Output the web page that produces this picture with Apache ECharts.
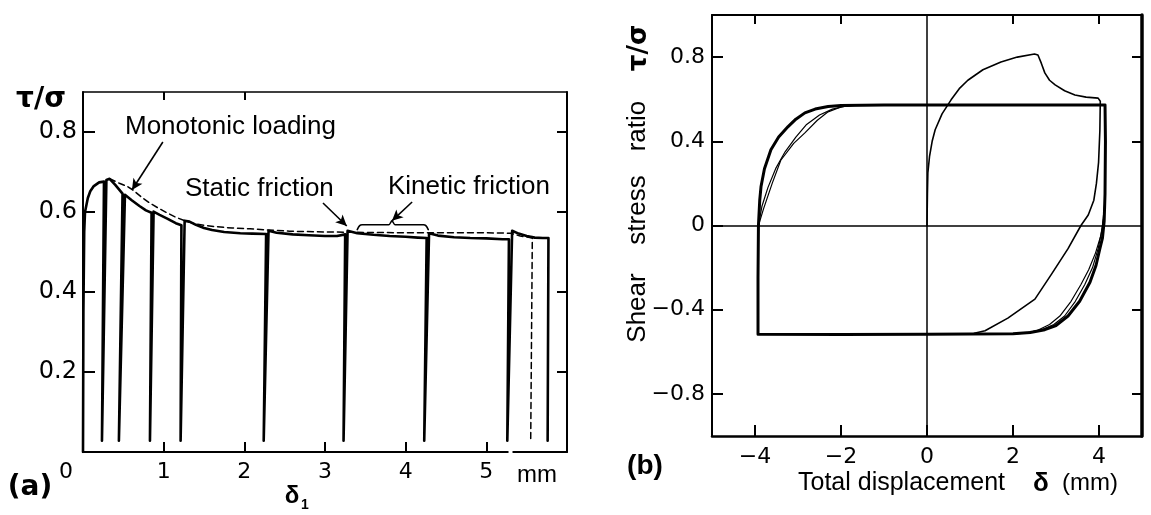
<!DOCTYPE html>
<html>
<head>
<meta charset="utf-8">
<script src="https://cdn.jsdelivr.net/npm/echarts@6.0.0/dist/echarts.min.js"></script>
<style>
  html, body { margin: 0; padding: 0; background: #fff; }
  #chart { width: 1151px; height: 515px; }
</style>
</head>
<body>
<div id="chart"></div>
<script>
// ---- Panel (a): shear stress ratio vs. displacement δ1 (mm) ----
// cyclic test: envelope with unloading / reloading drops
const cyclicA = [
  [0, 0], [0.005, 0.35], [0.015, 0.55], [0.025, 0.6], [0.045, 0.605], [0.06, 0.635],
  [0.09, 0.652], [0.13, 0.664], [0.2, 0.674], [0.26, 0.676],
  [0.235, 0.028],
  [0.29, 0.68], [0.33, 0.683], [0.4, 0.668], [0.49, 0.646],
  [0.445, 0.028],
  [0.52, 0.643], [0.6, 0.63], [0.7, 0.615], [0.78, 0.604], [0.85, 0.598],
  [0.83, 0.028],
  [0.875, 0.601], [0.95, 0.593], [1.05, 0.583], [1.15, 0.572], [1.22, 0.567],
  [1.21, 0.028],
  [1.26, 0.578], [1.32, 0.576], [1.4, 0.568], [1.5, 0.56], [1.6, 0.555], [1.75, 0.55],
  [1.95, 0.547], [2.1, 0.546], [2.27, 0.545],
  [2.24, 0.028],
  [2.3, 0.553], [2.4, 0.548], [2.6, 0.544], [2.8, 0.542], [3.0, 0.54], [3.15, 0.54], [3.25, 0.544],
  [3.23, 0.028],
  [3.28, 0.553], [3.4, 0.547], [3.6, 0.543], [3.8, 0.54], [4.0, 0.538], [4.15, 0.536], [4.26, 0.535],
  [4.23, 0.028],
  [4.29, 0.547], [4.4, 0.541], [4.6, 0.537], [4.8, 0.535], [5.0, 0.534], [5.2, 0.532], [5.28, 0.532],
  [5.26, 0.028],
  [5.32, 0.553], [5.4, 0.546], [5.5, 0.54], [5.6, 0.536], [5.7, 0.535], [5.77, 0.535],
  [5.76, 0.028]
];
// monotonic loading (dashed)
const monotonicA = [
  [0.33, 0.683], [0.45, 0.672], [0.55, 0.664], [0.62, 0.655], [0.72, 0.638], [0.83, 0.622],
  [0.94, 0.609], [1.04, 0.598], [1.16, 0.586], [1.28, 0.577], [1.4, 0.57], [1.5, 0.567],
  [1.66, 0.563], [1.85, 0.56], [2.07, 0.558], [2.3, 0.555], [2.56, 0.552], [3.0, 0.55],
  [3.5, 0.549], [4.0, 0.548], [4.5, 0.548], [5.0, 0.548], [5.3, 0.547], [5.42, 0.54],
  [5.57, 0.535], [5.55, 0.028]
];
const ticksXA = [1, 2, 3, 4, 5];
const ticksYA = [0.2, 0.4, 0.6, 0.8];

// ---- Panel (b): shear stress ratio vs. total displacement δ (mm) ----
// first loading and first reversal (thin)
const firstLoadB = [
  [0, 0], [0.01, 0.15], [0.02, 0.25], [0.06, 0.33], [0.12, 0.4], [0.19, 0.455], [0.35, 0.53],
  [0.56, 0.597], [0.75, 0.65], [0.95, 0.69], [1.3, 0.74], [1.72, 0.777], [2.1, 0.8],
  [2.5, 0.815], [2.58, 0.81], [2.66, 0.77], [2.74, 0.725], [2.85, 0.69], [2.98, 0.668],
  [3.2, 0.64], [3.44, 0.62], [3.7, 0.61], [3.98, 0.605], [4.03, 0.59], [4.02, 0.45],
  [3.99, 0.3], [3.94, 0.2], [3.88, 0.12], [3.75, 0.05], [3.58, 0.0], [3.28, -0.11],
  [2.9, -0.23], [2.51, -0.35], [1.88, -0.44], [1.35, -0.5], [1.1, -0.512]
];
// steady hysteresis loop (thick)
const loopB = [
  [-3.93, -0.517], [-3.93, -0.25], [-3.92, 0], [-3.89, 0.12], [-3.86, 0.185], [-3.78, 0.27],
  [-3.63, 0.36], [-3.45, 0.42], [-3.23, 0.47], [-3.05, 0.505], [-2.84, 0.535], [-2.6, 0.553],
  [-2.3, 0.565], [-2.0, 0.57], [-1.0, 0.572], [0, 0.572], [1, 0.573], [2, 0.573], [3, 0.573],
  [4.14, 0.573], [4.15, 0.4], [4.14, 0.15], [4.12, 0.02], [4.08, -0.06], [4.02, -0.11],
  [3.93, -0.19], [3.79, -0.27], [3.55, -0.36], [3.28, -0.43], [3.0, -0.475], [2.74, -0.495],
  [2.4, -0.508], [2.0, -0.514], [1, -0.516], [0, -0.517], [-2, -0.518], [-3.93, -0.517]
];
// other cycles, where they separate from the steady loop
const cycleLeftA = [
  [-3.92, 0], [-3.84, 0.09], [-3.7, 0.18], [-3.52, 0.27], [-3.3, 0.35], [-3.05, 0.42],
  [-2.8, 0.48], [-2.5, 0.525], [-2.2, 0.553], [-1.9, 0.567], [-1.6, 0.572]
];
const cycleLeftB = [
  [-3.92, 0], [-3.8, 0.08], [-3.6, 0.2], [-3.4, 0.31], [-3.1, 0.39], [-2.84, 0.44],
  [-2.55, 0.5], [-2.3, 0.54], [-2.0, 0.563], [-1.7, 0.572]
];
const cycleRightA = [
  [4.13, 0.1], [4.07, -0.02], [3.98, -0.11], [3.85, -0.2], [3.67, -0.28], [3.45, -0.36],
  [3.2, -0.43], [2.95, -0.47], [2.65, -0.497], [2.3, -0.51], [1.9, -0.516]
];
const cycleRightB = [
  [4.12, 0.05], [4.04, -0.05], [3.92, -0.13], [3.76, -0.21], [3.58, -0.28], [3.35, -0.36],
  [3.09, -0.43], [2.85, -0.47], [2.55, -0.5], [2.2, -0.513], [1.8, -0.517]
];
const ticksXB = [-4, -2, 0, 2, 4];
const ticksYB = [-0.8, -0.4, 0, 0.4, 0.8];

const INK = '#000';
const NUM_FONT = 'DejaVu Sans';
const TXT_FONT = 'Liberation Sans';
const minus = v => (v < 0 ? '\u2212' : '') + Math.abs(v);

function frameAxis(extra) {
  return Object.assign({
    type: 'value',
    axisLine: { show: true, onZero: false, lineStyle: { color: INK, width: 2 } },
    axisTick: { show: true, inside: true, length: 11, lineStyle: { color: INK, width: 2 } },
    axisLabel: { show: false },
    splitLine: { show: false }
  }, extra);
}

function curve(name, xi, data, width, dash) {
  return {
    name, type: 'line', xAxisIndex: xi, yAxisIndex: xi, data,
    showSymbol: false, symbol: 'none', smooth: false, silent: true, z: 3,
    lineStyle: { color: INK, width, type: dash || 'solid', cap: 'round', join: 'round' }
  };
}

const chart = echarts.init(document.getElementById('chart'), null, { renderer: 'canvas' });

const annotationStyle = { color: INK, width: 1.6, type: 'solid' };

const option = {
  animation: false,
  backgroundColor: '#fff',
  grid: [
    { left: 83, top: 92, width: 484, height: 360 },
    { left: 712, top: 15, width: 430, height: 421 }
  ],
  xAxis: [
    frameAxis({
      gridIndex: 0, min: 0, max: 6, position: 'bottom',
      axisTick: { show: true, inside: true, length: 10, customValues: ticksXA, lineStyle: { color: INK, width: 2 } },
      axisLabel: { show: true, customValues: ticksXA, color: INK, fontFamily: NUM_FONT, fontSize: 22, margin: 9 }
    }),
    frameAxis({
      gridIndex: 1, min: -5, max: 5, position: 'bottom',
      axisLine: { show: true, onZero: false, lineStyle: { color: INK, width: 2.5 } },
      axisTick: { show: true, inside: true, length: 11, customValues: ticksXB, lineStyle: { color: INK, width: 2 } },
      axisLabel: { show: true, customValues: ticksXB, formatter: minus, color: INK, fontFamily: NUM_FONT, fontSize: 22, margin: 10 }
    }),
    frameAxis({
      gridIndex: 0, min: 0, max: 6, position: 'top',
      axisLine: { show: true, onZero: false, lineStyle: { color: INK, width: 1.5 } },
      axisTick: { show: true, inside: true, length: 8, customValues: [1, 2], lineStyle: { color: INK, width: 2 } }
    }),
    frameAxis({
      gridIndex: 1, min: -5, max: 5, position: 'top',
      axisTick: { show: true, inside: true, length: 9, customValues: [-4, -2, 2, 4], lineStyle: { color: INK, width: 2 } }
    })
  ],
  yAxis: [
    frameAxis({
      gridIndex: 0, min: 0, max: 0.9, position: 'left',
      axisTick: { show: true, inside: true, length: 12, customValues: ticksYA, lineStyle: { color: INK, width: 2 } },
      axisLabel: { show: true, customValues: ticksYA, formatter: v => v.toFixed(1), color: INK, fontFamily: NUM_FONT, fontSize: 24, margin: 6 }
    }),
    frameAxis({
      gridIndex: 1, min: -1, max: 1, position: 'left',
      axisTick: { show: true, inside: true, length: 11, customValues: ticksYB, lineStyle: { color: INK, width: 2 } },
      axisLabel: { show: true, customValues: ticksYB, formatter: v => v === 0 ? '0' : minus(Number(v.toFixed(1))), color: INK, fontFamily: NUM_FONT, fontSize: 22, margin: 7 }
    }),
    frameAxis({
      gridIndex: 0, min: 0, max: 0.9, position: 'right',
      axisTick: { show: true, inside: true, length: 10, customValues: ticksYA, lineStyle: { color: INK, width: 2 } }
    }),
    frameAxis({
      gridIndex: 1, min: -1, max: 1, position: 'right',
      axisLine: { show: true, onZero: false, lineStyle: { color: INK, width: 3.5 } },
      axisTick: { show: true, inside: true, length: 10, customValues: [-0.8, -0.4, 0.4, 0.8], lineStyle: { color: INK, width: 2 } }
    })
  ],
  series: [
    curve('Cyclic loading', 0, cyclicA, 2.6),
    Object.assign(curve('Monotonic loading', 0, monotonicA, 1.5, [6, 4]), {
      markLine: {
        silent: true, symbol: ['none', 'arrow'], symbolSize: [8, 11],
        label: { show: false }, lineStyle: annotationStyle,
        data: [
          [{ coord: [0.99, 0.775] }, { coord: [0.607, 0.655] }],
          [{ coord: [2.975, 0.6225] }, { coord: [3.27, 0.565] }],
          [{ coord: [4.08, 0.625] }, { coord: [3.83, 0.578] }]
        ]
      }
    }),
    // brace over the kinetic-friction stretch
    Object.assign(curve('Kinetic friction brace', 0, [
      [3.4, 0.556], [3.43, 0.566], [3.46, 0.568], [3.79, 0.568], [3.83, 0.578],
      [3.87, 0.568], [4.22, 0.568], [4.25, 0.566], [4.28, 0.556]
    ], 1.6), { smooth: 0.3 }),

    Object.assign(curve('First loading', 1, firstLoadB, 1.6), {
      markLine: {
        silent: true, symbol: ['none', 'none'], label: { show: false },
        lineStyle: { color: INK, width: 1.5, type: 'solid' },
        data: [{ xAxis: 0 }, { yAxis: 0 }]
      }
    }),
    curve('Cycle A left', 1, cycleLeftA, 1.2),
    curve('Cycle B left', 1, cycleLeftB, 1.2),
    curve('Cycle A right', 1, cycleRightA, 1.2),
    curve('Cycle B right', 1, cycleRightB, 1.2),
    curve('Steady loop', 1, loopB, 3)
  ],
  graphic: []
};

chart.setOption(option);

// texts and small decorations
const gapL = chart.convertToPixel({ xAxisIndex: 0 }, 5.275);
const axisYA = chart.convertToPixel({ yAxisIndex: 0 }, 0);

function txt(text, x, y, font, align, extra) {
  return Object.assign({
    type: 'text', x, y, silent: true, z: 10,
    style: { text, font, fill: INK, align: align || 'left', verticalAlign: 'middle' }
  }, extra || {});
}

const graphics = [
  { type: 'rect', silent: true, z: 5, shape: { x: gapL, y: axisYA - 4, width: 4, height: 8 }, style: { fill: '#fff' } },
  txt('\u03c4/\u03c3', 41, 100, 'bold 28px "DejaVu Sans"', 'center'),
  txt('Monotonic loading', 125, 127, '26px "Liberation Sans"'),
  txt('Static friction', 185, 189, '26px "Liberation Sans"'),
  txt('Kinetic friction', 388, 187, '26px "Liberation Sans"'),
  txt('mm', 537, 475, '24px "Liberation Sans"', 'center'),
  txt('0', 66, 472, '22px "DejaVu Sans"', 'center'),
  txt('(a)', 30, 488, 'bold 28px "DejaVu Sans"', 'center'),
  txt('\u03b4', 292, 496, 'bold 24px "Liberation Sans"', 'center'),
  txt('1', 305, 505, 'bold 14px "Liberation Sans"', 'center'),
  txt('(b)', 645, 466, 'bold 28px "Liberation Sans"', 'center'),
  txt('Total displacement', 798, 483, '25px "Liberation Sans"'),
  txt('\u03b4', 1041, 484, 'bold 26px "Liberation Sans"', 'center'),
  txt('(mm)', 1062, 483, '24px "Liberation Sans"'),
  txt('Shear', 638, 308, '26px "Liberation Sans"', 'center', { rotation: Math.PI / 2 }),
  txt('stress', 638, 210, '26px "Liberation Sans"', 'center', { rotation: Math.PI / 2 }),
  txt('ratio', 638, 126, '26px "Liberation Sans"', 'center', { rotation: Math.PI / 2 }),
  txt('\u03c4/\u03c3', 639, 48, 'bold 26px "DejaVu Sans"', 'center', { rotation: Math.PI / 2 })
];

chart.setOption({ graphic: graphics });
</script>
</body>
</html>
